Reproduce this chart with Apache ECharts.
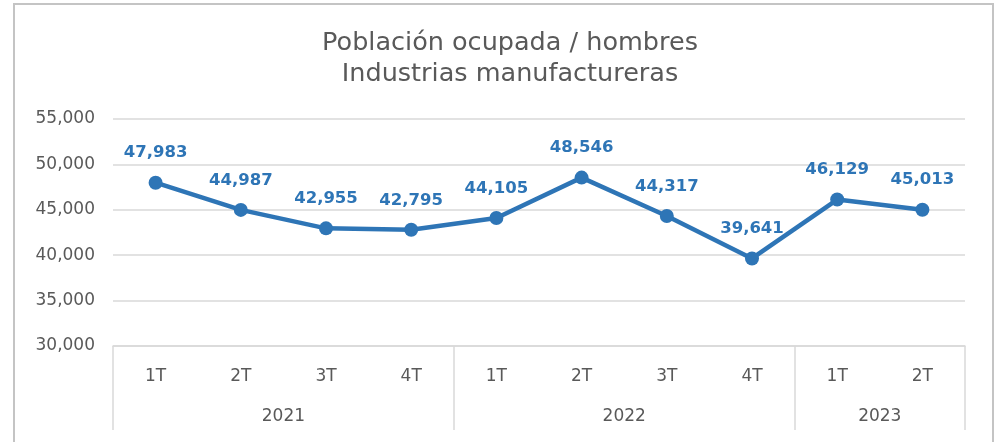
<!DOCTYPE html>
<html>
<head>
<meta charset="utf-8">
<script src="https://cdn.jsdelivr.net/npm/echarts@6/dist/echarts.min.js"></script>
<style>
  html, body { margin: 0; padding: 0; background: #fff; }
  #frame { position: absolute; left: 13px; top: 3px; width: 981px; height: 450px; border: 2px solid #c4c4c4; box-sizing: border-box; }
  #chart { width: 1000px; height: 442px; }
</style>
</head>
<body>
<div id="frame"></div>
<div id="chart"></div>
<script>
// datos
const quarters = ['1T', '2T', '3T', '4T', '1T', '2T', '3T', '4T', '1T', '2T'];
const years = ['2021', '2022', '2023'];
const yearCenters = [2, 6, 9];      // posición del centro de cada año (en categorías)
const yearBounds = [0, 4, 8, 10];   // separadores entre años
const values = [47983, 44987, 42955, 42795, 44105, 48546, 44317, 39641, 46129, 45013];

const gray = '#595959';
const lineGray = '#d9d9d9';
const blue = '#2e75b6';
const font = 'DejaVu Sans, sans-serif';

const chart = echarts.init(document.getElementById('chart'));

chart.setOption({
    backgroundColor: 'transparent',
    textStyle: { fontFamily: font },
    title: {
        text: 'Población ocupada / hombres\nIndustrias manufactureras',
        left: 505,
        textAlign: 'center',
        top: 23,
        textStyle: { color: gray, fontSize: 25.5, fontWeight: 'normal', lineHeight: 31, fontFamily: font }
    },
    grid: { left: 113, right: 35, top: 119, bottom: 96 },
    xAxis: [{
        type: 'category',
        data: quarters,
        boundaryGap: true,
        axisLine: { lineStyle: { color: lineGray, width: 1.5 } },
        axisTick: { show: false },
        axisLabel: { color: gray, fontSize: 17, margin: 22, fontFamily: font }
    }, {
        type: 'value',
        position: 'bottom',
        min: 0,
        max: 10,
        axisLine: { show: false },
        splitLine: { show: false },
        axisTick: { show: true, customValues: yearBounds, length: 84, lineStyle: { color: lineGray, width: 1.5 } },
        axisLabel: {
            customValues: yearCenters,
            color: gray, fontSize: 17, margin: 62, fontFamily: font,
            formatter: v => years[yearCenters.indexOf(v)]
        }
    }],
    yAxis: {
        type: 'value',
        min: 30000,
        max: 55000,
        interval: 5000,
        axisLine: { show: false },
        axisTick: { show: false },
        splitLine: { lineStyle: { color: lineGray, width: 1.5 } },
        axisLabel: {
            color: gray, fontSize: 17, margin: 18, fontFamily: font,
            formatter: v => v.toLocaleString('en-US')
        }
    },
    series: [{
        type: 'line',
        xAxisIndex: 0,
        data: values,
        symbol: 'circle',
        symbolSize: 14,
        lineStyle: { color: blue, width: 4.5 },
        itemStyle: { color: blue },
        label: {
            show: true,
            position: 'top',
            distance: 14,
            color: blue,
            fontSize: 16.5,
            fontWeight: 'bold',
            fontFamily: font,
            formatter: p => p.value.toLocaleString('en-US')
        }
    }]
});
</script>
</body>
</html>
